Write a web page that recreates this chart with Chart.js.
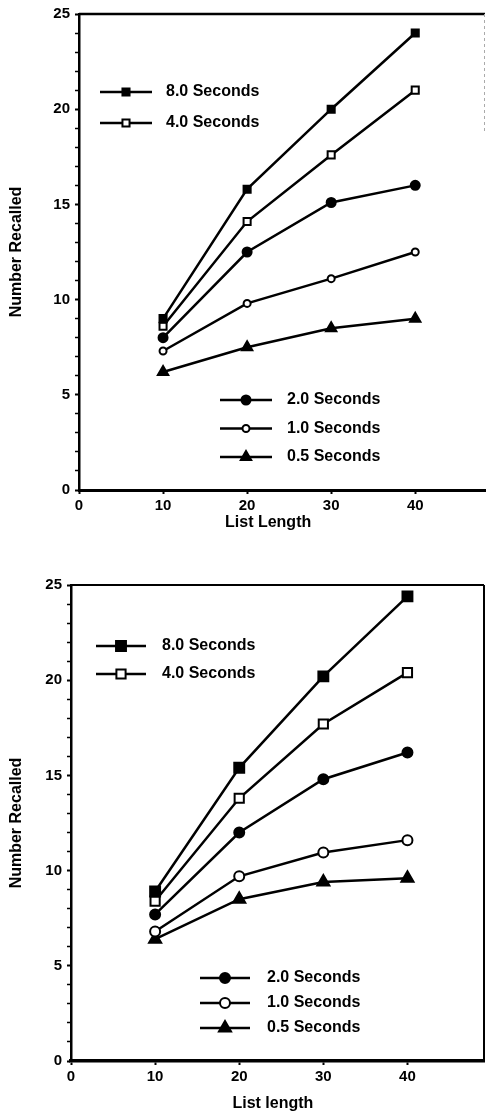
<!DOCTYPE html>
<html>
<head>
<meta charset="utf-8">
<script src="https://cdn.jsdelivr.net/npm/chart.js@4.4.1/dist/chart.umd.min.js"></script>
<style>
  html, body { margin: 0; padding: 0; background: #fff; }
  #wrap { position: relative; width: 493px; height: 1114px; }
  .panel { position: absolute; left: 0; width: 493px; }
  #panelA { top: 0; height: 545px; }
  #panelB { top: 545px; height: 569px; }
</style>
</head>
<body>
<div id="wrap">
  <div class="panel" id="panelA"><canvas id="chartA"></canvas></div>
  <div class="panel" id="panelB"><canvas id="chartB"></canvas></div>
</div>
<script>
// Recall by list length, one line per presentation time
const listLengths = [10, 20, 30, 40];
const xTickValues = [0, 10, 20, 30, 40];
const seriesNames = ['8.0 Seconds', '4.0 Seconds', '2.0 Seconds', '1.0 Seconds', '0.5 Seconds'];

// Upper panel
const a8 = [9.0, 15.8, 20.0, 24.0];
const a4 = [8.6, 14.1, 17.6, 21.0];
const a2 = [8.0, 12.5, 15.1, 16.0];
const a1 = [7.3, 9.8, 11.1, 12.5];
const a05 = [6.2, 7.5, 8.5, 9.0];

// Lower panel
const b8 = [8.9, 15.4, 20.2, 24.4];
const b4 = [8.4, 13.8, 17.7, 20.4];
const b2 = [7.7, 12.0, 14.8, 16.2];
const b1 = [6.8, 9.7, 10.95, 11.6];
const b05 = [6.4, 8.5, 9.4, 9.6];

const FONT = 'Liberation Sans, Arial, Helvetica, sans-serif';

function makeDataset(label, values, style, radius, filled) {
  return {
    label: label,
    data: values.map((v, i) => ({ x: listLengths[i], y: v })),
    borderColor: '#000',
    borderWidth: 2.5,
    pointStyle: style,
    pointRadius: radius,
    pointHoverRadius: radius,
    pointBackgroundColor: filled ? '#000' : '#fff',
    pointBorderColor: '#000',
    pointBorderWidth: 2,
    fill: false,
    tension: 0
  };
}

// Draws a marker the same way the series do
function drawMarker(ctx, style, r, filled, x, y) {
  ctx.save();
  ctx.beginPath();
  if (style === 'rect') {
    const s = Math.SQRT1_2 * r;
    ctx.rect(x - s, y - s, 2 * s, 2 * s);
  } else if (style === 'triangle') {
    ctx.moveTo(x, y - r);
    ctx.lineTo(x + r * 0.866, y + r * 0.5);
    ctx.lineTo(x - r * 0.866, y + r * 0.5);
    ctx.closePath();
  } else {
    ctx.arc(x, y, r, 0, Math.PI * 2);
  }
  ctx.fillStyle = filled ? '#000' : '#fff';
  ctx.fill();
  ctx.lineWidth = 2;
  ctx.strokeStyle = '#000';
  ctx.stroke();
  ctx.restore();
}

const decorations = {
  id: 'decorations',
  afterDatasetsDraw(chart, args, opts) {
    const ctx = chart.ctx;
    const ca = chart.chartArea;
    ctx.save();
    // frame
    ctx.strokeStyle = '#000';
    ctx.lineWidth = opts.topWidth;
    ctx.beginPath();
    ctx.moveTo(ca.left, ca.top);
    ctx.lineTo(ca.right, ca.top);
    ctx.stroke();
    if (opts.rightFaint) {
      ctx.strokeStyle = '#aaa';
      ctx.lineWidth = 1;
      ctx.setLineDash([3, 3]);
      ctx.beginPath();
      ctx.moveTo(ca.right - 0.5, ca.top);
      ctx.lineTo(ca.right - 0.5, ca.top + opts.rightFaint);
      ctx.stroke();
      ctx.setLineDash([]);
    } else {
      ctx.strokeStyle = '#000';
      ctx.lineWidth = opts.rightWidth;
      ctx.beginPath();
      ctx.moveTo(ca.right, ca.top);
      ctx.lineTo(ca.right, ca.bottom);
      ctx.stroke();
    }

    // legends
    ctx.fillStyle = '#000';
    ctx.font = 'bold 16px ' + FONT;
    ctx.textBaseline = 'middle';
    ctx.textAlign = 'left';
    opts.legends.forEach(g => {
      g.items.forEach((di, k) => {
        const ds = chart.data.datasets[di];
        const y = g.y + k * g.gap;
        ctx.strokeStyle = '#000';
        ctx.lineWidth = 2.5;
        ctx.beginPath();
        ctx.moveTo(g.x, y);
        ctx.lineTo(g.x + g.len, y);
        ctx.stroke();
        drawMarker(ctx, ds.pointStyle, ds.pointRadius, ds.pointBackgroundColor === '#000', g.x + g.len / 2, y);
        ctx.fillStyle = '#000';
        ctx.fillText(ds.label, g.tx, y);
      });
    });

    // axis titles
    ctx.font = 'bold 16px ' + FONT;
    ctx.textAlign = 'center';
    ctx.textBaseline = 'middle';
    const xs = chart.scales.x;
    ctx.fillText(opts.xTitle, xs.getPixelForValue(opts.xTitleAt), ca.bottom + opts.xTitleGap);
    ctx.save();
    ctx.translate(opts.yTitleX, (ca.top + ca.bottom) / 2);
    ctx.rotate(-Math.PI / 2);
    ctx.fillText('Number Recalled', 0, 0);
    ctx.restore();
    ctx.restore();
  }
};

function buildChart(canvasId, datasets, geo, deco) {
  return new Chart(document.getElementById(canvasId), {
    type: 'line',
    data: { datasets: datasets },
    options: {
      responsive: true,
      maintainAspectRatio: false,
      animation: false,
      events: [],
      layout: { padding: { top: geo.padTop, right: geo.padRight, left: 0, bottom: 0 } },
      plugins: {
        legend: { display: false },
        tooltip: { enabled: false },
        decorations: deco
      },
      scales: {
        x: {
          type: 'linear',
          min: 0,
          max: geo.xMax,
          afterBuildTicks: s => { s.ticks = xTickValues.map(v => ({ value: v })); },
          afterFit: s => { s.height = geo.xHeight; },
          border: { display: true, color: '#000', width: geo.xAxisWidth },
          grid: { display: true, drawOnChartArea: false, drawTicks: true, tickLength: 4, tickColor: '#000', tickWidth: 2 },
          ticks: { color: '#000', padding: 3, font: { family: FONT, weight: 'bold', size: 15 }, autoSkip: false, maxRotation: 0 }
        },
        y: {
          type: 'linear',
          min: 0,
          max: 25,
          afterFit: s => { s.width = geo.yWidth; },
          border: { display: true, color: '#000', width: geo.yAxisWidth },
          grid: {
            display: true, drawOnChartArea: false, drawTicks: true, tickLength: 4, tickColor: '#000',
            tickWidth: c => (c.tick && c.tick.value % 5 === 0 ? 2 : 1.5)
          },
          ticks: {
            stepSize: 1, autoSkip: false, color: '#000', padding: 5,
            font: { family: FONT, weight: 'bold', size: 15 },
            callback: v => (v % 5 === 0 ? String(v) : '')
          }
        }
      }
    },
    plugins: [decorations]
  });
}

buildChart('chartA', [
  makeDataset(seriesNames[0], a8, 'rect', 5, true),
  makeDataset(seriesNames[1], a4, 'rect', 5, false),
  makeDataset(seriesNames[2], a2, 'circle', 4.5, true),
  makeDataset(seriesNames[3], a1, 'circle', 3.5, false),
  makeDataset(seriesNames[4], a05, 'triangle', 6, true)
], { padTop: 13, padRight: 1, xMax: 48.3, xHeight: 55, yWidth: 79, xAxisWidth: 3, yAxisWidth: 2.5 }, {
  topWidth: 2.5, rightFaint: 120,
  legends: [
    { x: 100, len: 52, tx: 166, y: 92, gap: 31, items: [0, 1] },
    { x: 220, len: 52, tx: 287, y: 400, gap: 28.5, items: [2, 3, 4] }
  ],
  xTitle: 'List Length', xTitleAt: 22.5, xTitleGap: 33, yTitleX: 17
});

buildChart('chartB', [
  makeDataset(seriesNames[0], b8, 'rect', 7, true),
  makeDataset(seriesNames[1], b4, 'rect', 6.5, false),
  makeDataset(seriesNames[2], b2, 'circle', 5, true),
  makeDataset(seriesNames[3], b1, 'circle', 5, false),
  makeDataset(seriesNames[4], b05, 'triangle', 7, true)
], { padTop: 40, padRight: 6, xMax: 49.1, xHeight: 53, yWidth: 71, xAxisWidth: 3.5, yAxisWidth: 2.5 }, {
  topWidth: 2, rightFaint: 0, rightWidth: 2,
  legends: [
    { x: 96, len: 50, tx: 162, y: 101, gap: 28, items: [0, 1] },
    { x: 200, len: 50, tx: 267, y: 433, gap: 25, items: [2, 3, 4] }
  ],
  xTitle: 'List length', xTitleAt: 24, xTitleGap: 43, yTitleX: 17
});
</script>
</body>
</html>
